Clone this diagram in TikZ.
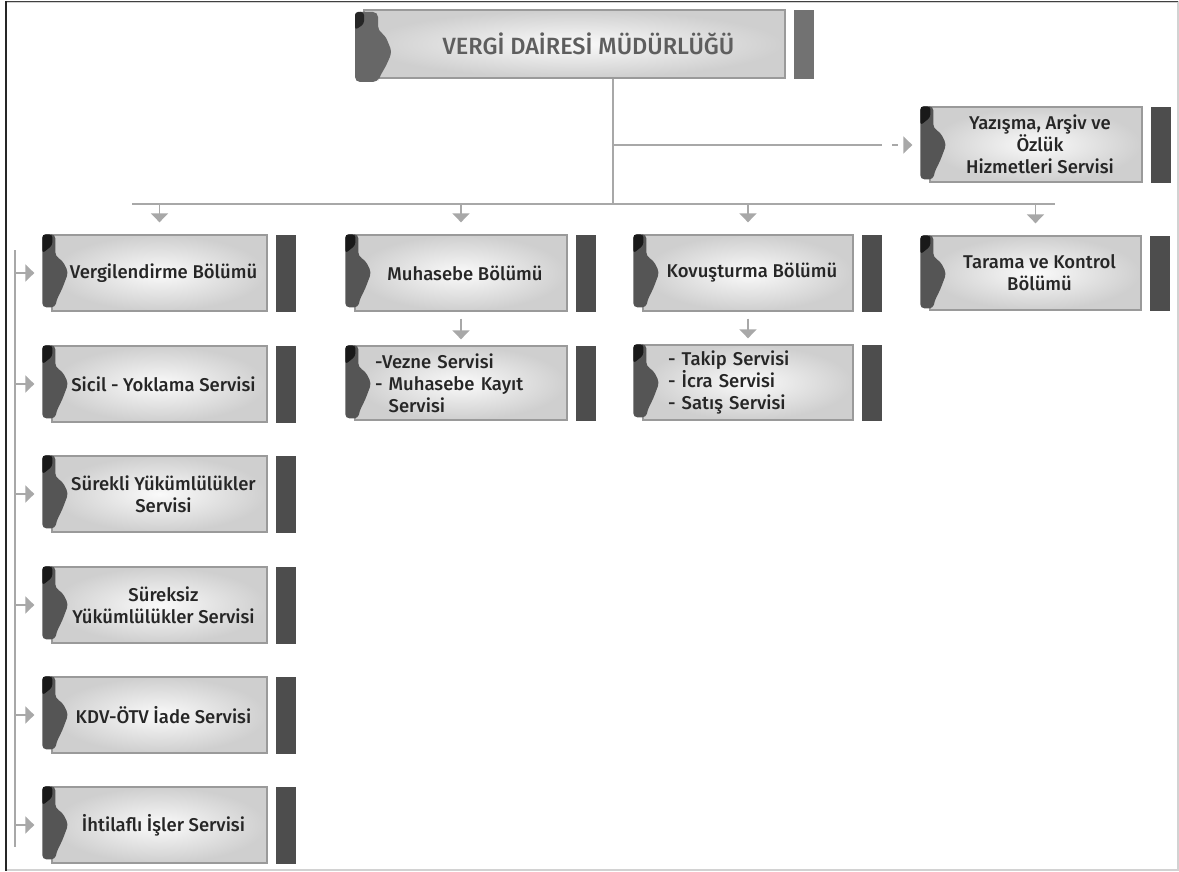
\documentclass[tikz,border=0pt]{standalone}
\usepackage{fontspec}
\setmainfont{Fira Sans}[UprightFont=* Medium]
\usetikzlibrary{arrows.meta}

\definecolor{boxedge}{HTML}{9A9A9A}
\definecolor{tabgray}{HTML}{555555}
\definecolor{tablight}{HTML}{676767}
\definecolor{bargray}{HTML}{4D4D4D}
\definecolor{barlight}{HTML}{727272}
\definecolor{linegray}{HTML}{A8A8A8}
\definecolor{titlegray}{HTML}{5E5E5E}
\definecolor{textdark}{HTML}{262626}

\tikzset{
  unit/.style={draw=boxedge, line width=1.3pt, inner color=gray!4, outer color=gray!38,
    font=\fontsize{18.5}{22}\selectfont, text=textdark, align=center, inner sep=0pt},
  title/.style={font=\fontsize{23.5}{26}\selectfont, text=titlegray},
  listbox/.style={align=left},
  conn/.style={draw=linegray, line width=1.5pt},
  tip/.style={-{Triangle[length=9pt, width=17pt]}},
}

% small push to the right, clear of the tab
\newcommand\tb{\hspace*{8pt}}

% light box with its dark side bar
\newcommand\orgunit[8]{%
  \pgfmathsetmacro\uw{#4-#2}\pgfmathsetmacro\uh{#5-#3}%
  \node[unit, #6, minimum width=\uw pt, minimum height=\uh pt]
    (#1) at ({(#2+#4)/2},{(#3+#5)/2}) {#8};
  \fill[#7] ({#4+9},{#3}) rectangle ({#4+29},{#5+1});
}

% dark tab on the left edge of a box, drawn from the box's top-left corner
\newcommand\unittab{%
  \fill[tabgray, rounded corners=4pt] (-9,0) -- (4,0) -- (4,22) -- (11,26) -- (17,38)
    -- (11,54) -- (5,66) -- (4,73) -- (-9,73) -- cycle;
  \fill[black!90, rounded corners=3pt] (-9,19) -- (-9,0) -- (1,0) -- (1,11) -- cycle;
}

\begin{document}
\begin{tikzpicture}[x=1pt, y=-1pt]
\useasboundingbox (0,0) rectangle (1179,872);

% frame
\draw[gray!35, line width=1.2pt] (6,2) -- (1178,2) -- (1178,870) -- (6,870);
\draw[black!75, line width=1pt] (6,2) -- (1178,2);
\draw[black!85, line width=2.5pt] (6,1) -- (6,871);

% head office
\orgunit{vdm}{364}{10}{785}{78}{title}{barlight}{\hspace*{28pt}VERGİ DAİRESİ MÜDÜRLÜĞÜ}
\fill[tablight, rounded corners=5pt] (355,12) -- (378,12) -- (378,31) -- (385,35) -- (392,52)
  -- (386,66) -- (380,76) -- (378,82) -- (355,82) -- cycle;
\fill[black!85, rounded corners=3pt] (355,30) -- (355,12) -- (364,12) -- (364,24) -- cycle;

% side service
\orgunit{yaz}{930}{107}{1142}{182}{}{bargray}{\tb Yazışma, Arşiv ve\\\tb Özlük\\\tb Hizmetleri Servisi}

% departments
\orgunit{v1}{52}{235}{267}{311}{}{bargray}{\tb Vergilendirme Bölümü}
\orgunit{muh}{355}{235}{567}{311}{}{bargray}{\tb Muhasebe Bölümü}
\orgunit{kov}{643}{235}{853}{311}{}{bargray}{\tb Kovuşturma Bölümü}
\orgunit{tar}{930}{236}{1141}{310}{}{bargray}{\tb Tarama ve Kontrol\\\tb Bölümü}

% services
\orgunit{vez}{355}{346}{567}{420}{listbox, inner xsep=20pt, text width=172pt}{bargray}%
  {-Vezne Servisi\\- Muhasebe Kayıt\\\phantom{- }Servisi}
\orgunit{tak}{643}{345}{853}{420}{listbox, inner xsep=25pt, text width=160pt}{bargray}%
  {- Takip Servisi\\- İcra Servisi\\- Satış Servisi}

\orgunit{v2}{52}{346}{267}{422}{}{bargray}{\tb Sicil - Yoklama Servisi}
\orgunit{v3}{52}{456}{267}{532}{}{bargray}{\tb Sürekli Yükümlülükler\\\tb Servisi}
\orgunit{v4}{52}{567}{267}{643}{}{bargray}{\tb Süreksiz\\\tb Yükümlülükler Servisi}
\orgunit{v5}{52}{677}{267}{753}{}{bargray}{\tb KDV-ÖTV İade Servisi}
\orgunit{v6}{52}{787}{267}{863}{}{bargray}{\tb İhtilaflı İşler Servisi}

\foreach \n in {yaz,v1,muh,kov,tar,vez,tak,v2,v3,v4,v5,v6}{
  \begin{scope}[shift={(\n.north west)}]\unittab\end{scope}
}

% connectors
\coordinate (jn) at (613,204);
\coordinate (busL) at (132,204);
\coordinate (busR) at (1055,204);
\coordinate (br) at (613,145);
\coordinate (sp1) at (15,250);
\coordinate (sp2) at (15,847);

\draw[conn] (vdm.south -| jn) -- (jn);
\draw[conn] (busL) -- (busR);
\draw[conn, shorten >=47pt] (br) -- (br -| yaz.west);
\draw[conn, tip, dash pattern=on 6pt off 20pt, shorten <=279pt, shorten >=17pt] (br) -- (br -| yaz.west);

\foreach \n in {v1,muh,kov,tar}
  \draw[conn, tip, shorten >=12pt] (\n.north |- jn) -- (\n.north);

\draw[conn, tip, shorten <=7pt, shorten >=6pt] (muh.south) -- (vez.north);
\draw[conn, tip, shorten <=7pt, shorten >=6pt] (kov.south) -- (tak.north);

\draw[conn] (sp1) -- (sp2);
\foreach \n in {v1,v2,v3,v4,v5,v6}
  \draw[conn, tip, shorten >=17pt] (\n.west -| sp1) -- (\n.west);

\end{tikzpicture}
\end{document}
